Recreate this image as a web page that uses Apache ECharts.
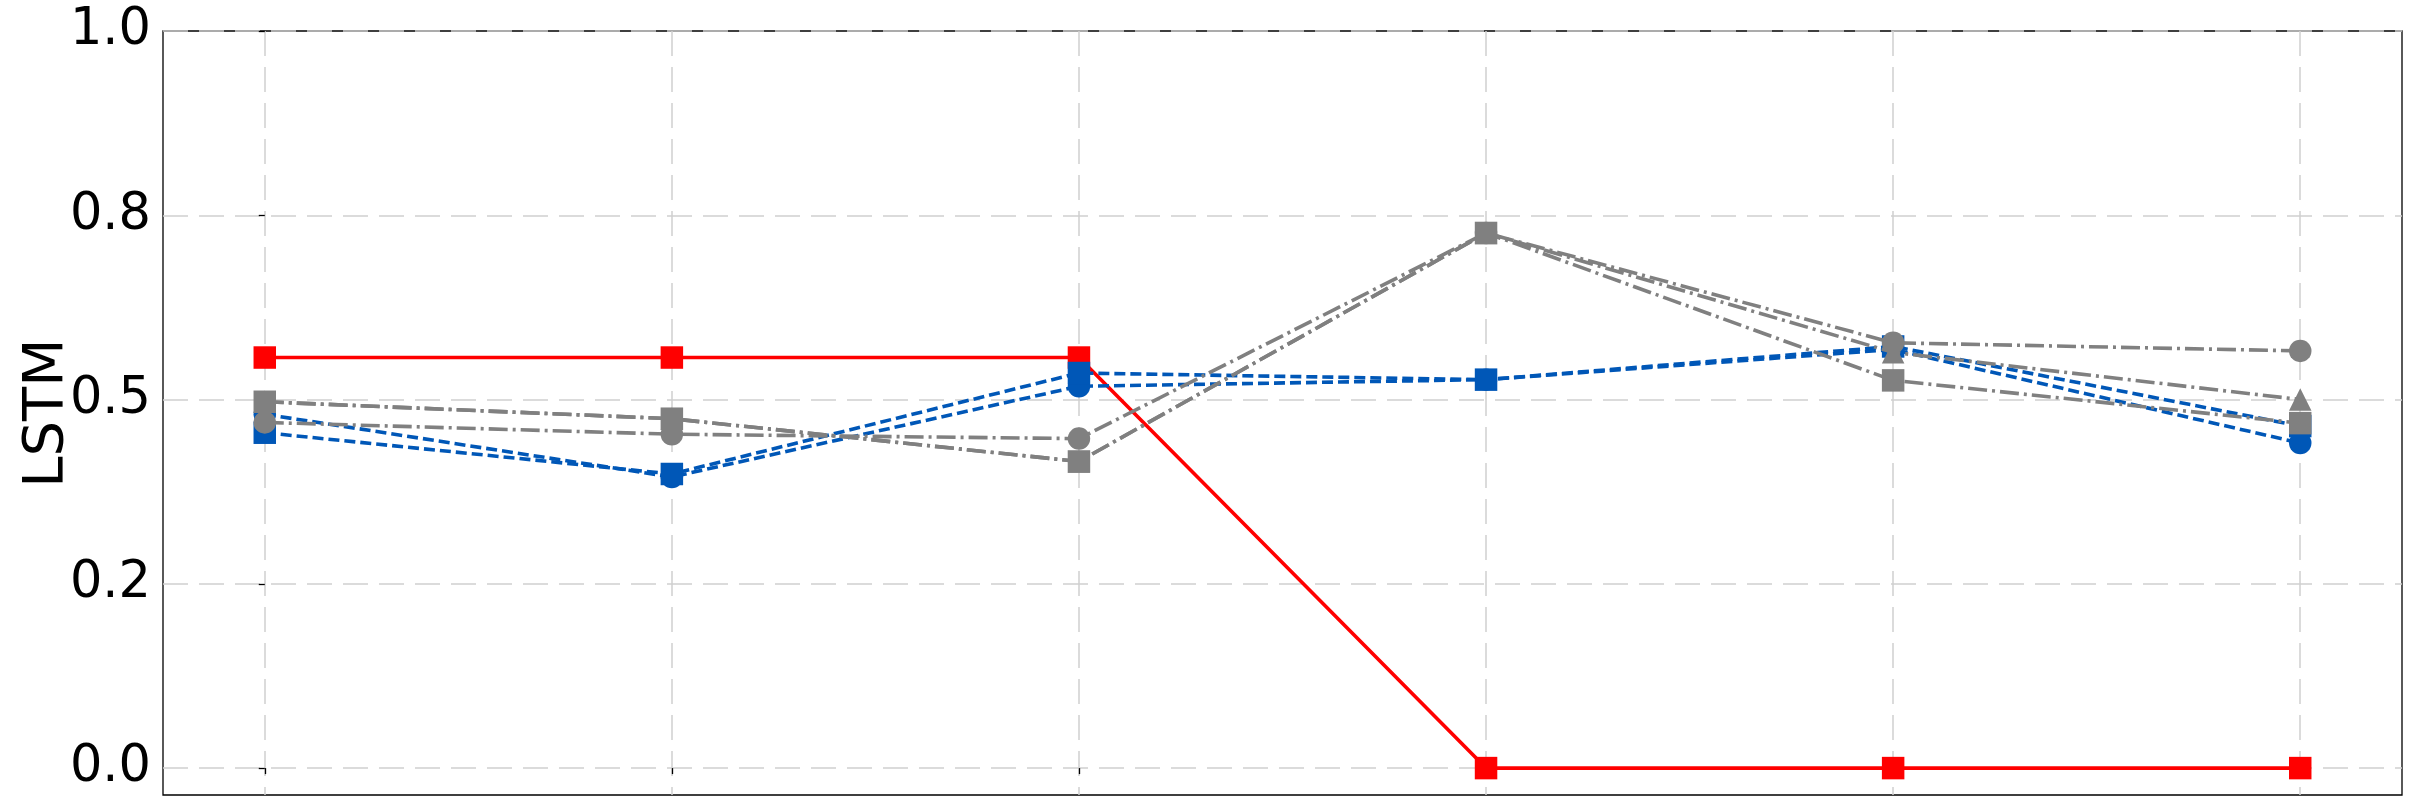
<!DOCTYPE html>
<html>
<head>
<meta charset="utf-8">
<script src="https://cdn.jsdelivr.net/npm/echarts@6/dist/echarts.min.js"></script>
<style>
  html, body { margin: 0; padding: 0; background: #fff; }
  #main { width: 2411px; height: 811px; }
</style>
</head>
<body>
<div id="main"></div>
<script>
// x positions of the six (unlabelled) points
const xPositions = [0, 1, 2, 3, 4, 5];

// series values
const redSquare    = [0.557, 0.557, 0.557, 0.0, 0.0, 0.0];
const blueCircle   = [0.480, 0.395, 0.518, 0.527, 0.568, 0.441];
const blueSquare   = [0.455, 0.399, 0.536, 0.527, 0.572, 0.464];
const grayTriangle = [0.497, 0.474, 0.416, 0.726, 0.564, 0.500];
const grayCircle   = [0.469, 0.453, 0.447, 0.726, 0.577, 0.566];
const graySquare   = [0.497, 0.474, 0.416, 0.726, 0.526, 0.468];

// y ticks and their labels (matplotlib one-decimal rounding)
const yTicks = [0, 0.25, 0.5, 0.75, 1.0];
const yTickLabels = ['0.0', '0.2', '0.5', '0.8', '1.0'];

const FONT = 'DejaVu Sans';
const gridColor = '#d0d0d0';

function lineSeries(name, values, color, symbol, dash, z) {
    return {
        name: name,
        type: 'line',
        data: xPositions.map((x, i) => [x, values[i]]),
        symbol: symbol,
        symbolSize: 22.5,
        showSymbol: true,
        lineStyle: { color: color, width: 3.6, type: dash },
        itemStyle: { color: color },
        emphasis: { disabled: true },
        z: z
    };
}

const dashed = [11, 5];
const dashDot = [19, 5, 3, 5];

const myChart = echarts.init(document.getElementById('main'));
myChart.setOption({
    animation: false,
    grid: {
        left: 163, right: 9, top: 31, bottom: 16,
        outerBoundsMode: 'none',
        containLabel: false,
        show: true, borderColor: '#000', borderWidth: 1.3,
        backgroundColor: 'transparent'
    },
    xAxis: {
        type: 'value',
        min: -0.25,
        max: 5.25,
        axisLine: { show: false },
        axisTick: { show: true, customValues: xPositions, length: 6, lineStyle: { color: '#000', width: 1.3 } },
        axisLabel: { show: false },
        splitLine: { show: true, lineStyle: { color: gridColor, width: 1.5, type: [25, 11] } }
    },
    yAxis: {
        type: 'value',
        min: -0.0365,
        max: 1.0,
        name: 'LSTM',
        nameLocation: 'middle',
        nameGap: 88,
        nameMoveOverlap: false,
        nameTextStyle: { fontFamily: FONT, fontSize: 56, color: '#000' },
        axisLine: { show: false },
        axisTick: { show: true, customValues: yTicks, length: 6, lineStyle: { color: '#000', width: 1.3 } },
        axisLabel: {
            customValues: yTicks,
            margin: 12,
            fontFamily: FONT,
            fontSize: 51,
            color: '#000',
            formatter: v => yTickLabels[yTicks.indexOf(v)]
        },
        splitLine: { show: true, lineStyle: { color: gridColor, width: 1.5, type: [25, 11] } }
    },
    series: [
        lineSeries('red', redSquare, '#ff0000', 'rect', 'solid', 2),
        lineSeries('blue circle', blueCircle, '#0057b7', 'circle', dashed, 3),
        lineSeries('blue square', blueSquare, '#0057b7', 'rect', dashed, 3),
        lineSeries('gray triangle', grayTriangle, '#808080', 'triangle', dashDot, 4),
        lineSeries('gray circle', grayCircle, '#808080', 'circle', dashDot, 4),
        lineSeries('gray square', graySquare, '#808080', 'rect', dashDot, 4)
    ]
});
</script>
</body>
</html>
